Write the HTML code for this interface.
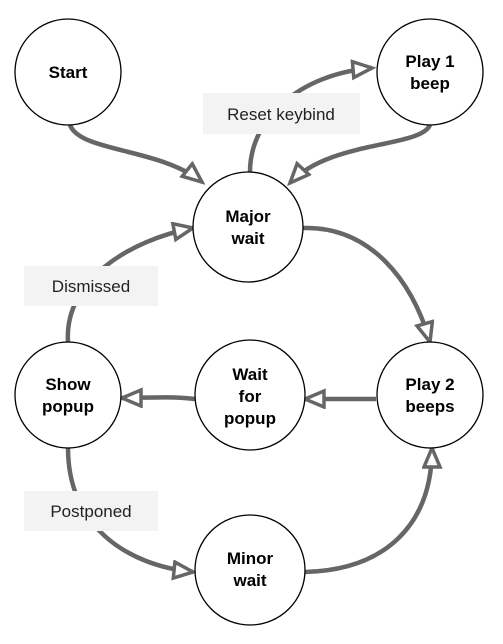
<!DOCTYPE html>
<html><head><meta charset="utf-8"><style>
html,body{margin:0;padding:0;background:#fff;}
svg{display:block;}
text{font-family:"Liberation Sans",Arial,sans-serif;}
</style></head><body>
<svg width="503" height="644" viewBox="0 0 503 644" xmlns="http://www.w3.org/2000/svg">
<defs>
<marker id="a" markerUnits="userSpaceOnUse" markerWidth="26" markerHeight="22" refX="21" refY="10" orient="auto">
<path d="M2,2 L21,10 L2,18 Z" fill="#fff" stroke="#666" stroke-width="3.5" stroke-linejoin="miter"/>
</marker>
</defs>
<g fill="none" stroke="#666" stroke-width="4.5" marker-end="url(#a)">
<path d="M70 125 C80 152,160 148,202 182"/>
<path d="M250 172 C250 118,300 74,372 68"/>
<path d="M430 125 C420 148,330 140,290 183"/>
<path d="M303 228 C370 226,412 280,430 342"/>
<path d="M376 399 L305 399"/>
<path d="M195 399 C170 396,145 398,122 398"/>
<path d="M68 342 C64 280,130 240,193 228"/>
<path d="M68 448 C68 525,125 565,193 572"/>
<path d="M305 572 C385 570,432 525,432 448"/>
</g>
<rect x="203" y="93" width="157" height="41" fill="#f3f3f3"/>
<text x="281" y="120" font-size="17" text-anchor="middle" fill="#222">Reset keybind</text>
<rect x="24" y="266" width="134" height="40" fill="#f3f3f3"/>
<text x="91" y="292" font-size="17" text-anchor="middle" fill="#222">Dismissed</text>
<rect x="24" y="491" width="134" height="40" fill="#f3f3f3"/>
<text x="91" y="517" font-size="17" text-anchor="middle" fill="#222">Postponed</text>
<g fill="#fff" stroke="#000" stroke-width="1.3">
<circle cx="68" cy="72" r="53"/>
<circle cx="430" cy="72" r="53"/>
<circle cx="248" cy="227" r="55"/>
<circle cx="430" cy="395" r="53"/>
<circle cx="250" cy="395" r="55"/>
<circle cx="68" cy="395" r="53"/>
<circle cx="250" cy="570" r="55"/>
</g>
<g font-size="17" font-weight="bold" text-anchor="middle" fill="#000">
<text x="68" y="78">Start</text>
<text x="430" y="67">Play 1</text><text x="430" y="89">beep</text>
<text x="248" y="222">Major</text><text x="248" y="244">wait</text>
<text x="430" y="390">Play 2</text><text x="430" y="412">beeps</text>
<text x="250" y="380">Wait</text><text x="250" y="402">for</text><text x="250" y="424">popup</text>
<text x="68" y="390">Show</text><text x="68" y="412">popup</text>
<text x="250" y="564">Minor</text><text x="250" y="586">wait</text>
</g>
</svg>
</body></html>
